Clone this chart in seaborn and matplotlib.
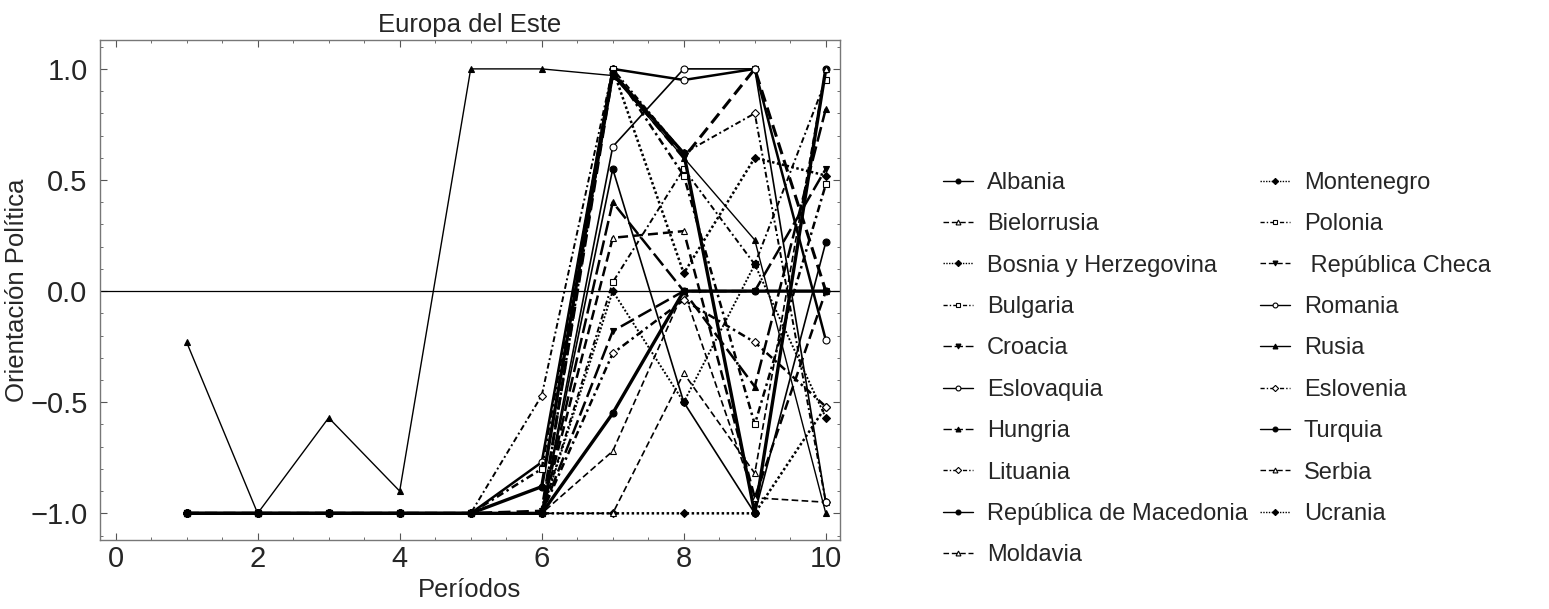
import numpy as np
import pandas as pd
import matplotlib
matplotlib.use("Agg")
import matplotlib.pyplot as plt
import seaborn as sns
from matplotlib.ticker import MultipleLocator

# Datos
periodos = list(range(1, 11))

paises = ["Albania", "Bielorrusia", "Bosnia y Herzegovina", "Bulgaria", "Croacia",
          "Eslovaquia", "Hungria", "Lituania", "República de Macedonia", "Moldavia",
          "Montenegro", "Polonia", " República Checa", "Romania", "Rusia",
          "Eslovenia", "Turquia", "Serbia", "Ucrania"]

albania     = [-1, -1, -1, -1, -1, -1, 0.55, -0.50, -1.00, 0.22]
bielorrusia = [-1, -1, -1, -1, -1, -1, -0.72, 0.00, -0.93, -0.95]
bosnia      = [-1, -1, -1, -1, -1, -1, 1.00, 0.08, 0.60, 0.52]
bulgaria    = [-1, -1, -1, -1, -1, -1, 0.04, 0.55, 0.12, 0.95]
croacia     = [-1, -1, -1, -1, -1, -1, -0.18, 0.00, 0.00, 0.55]
eslovaquia  = [-1, -1, -1, -1, -1, -0.77, 1.00, 0.95, 1.00, -0.22]
hungria     = [-1, -1, -1, -1, -1, -1, 0.40, 0.00, -0.43, 0.82]
lituania    = [-1, -1, -1, -1, -1, -0.47, 1.00, 0.62, 0.80, -0.95]
macedonia   = [-1, -1, -1, -1, -1, -0.88, 0.98, 0.62, -1.00, 1.00]
moldavia    = [-1, -1, -1, -1, -1, -1, 0.24, 0.27, -0.93, 0.00]
montenegro  = [-1, -1, -1, -1, -1, -1, -1.00, -1.00, -1.00, -0.52]
polonia     = [-1, -1, -1, -1, -1, -0.80, 1.00, 0.52, -0.60, 0.48]
checa       = [-1, -1, -1, -1, -1, -0.99, 0.98, 0.60, 1.00, 0.00]
romania     = [-1, -1, -1, -1, -1, -1, 0.65, 1.00, 1.00, -0.95]
rusia       = [-0.23, -1, -0.57, -0.90, 1.00, 1.00, 0.97, 0.60, 0.23, -1.00]
eslovenia   = [-1, -1, -1, -1, -1, -1, -0.28, -0.04, -0.23, -0.52]
turquia     = [-1, -1, -1, -1, -1, -1, -0.55, 0.00, 0.00, 0.00]
serbia      = [-1, -1, -1, -1, -1, -1, -1.00, -0.37, -0.82, 1.00]
ucrania     = [-1, -1, -1, -1, -1, -1, 0.00, -0.50, 0.12, -0.57]

valores = [albania, bielorrusia, bosnia, bulgaria, croacia, eslovaquia, hungria,
           lituania, macedonia, moldavia, montenegro, polonia, checa, romania,
           rusia, eslovenia, turquia, serbia, ucrania]

# estilo de cada serie: (linestyle, marker, relleno, grosor)
solido = "-"
guion = (0, (4, 2))
punteado = (0, (1, 1))
guion_punto = (0, (3, 1.5, 1, 1.5))
guion_largo = (0, (6, 2))
estilos = [
    (solido, "o", "k", 1.2),
    (guion, "^", "w", 1.2),
    (punteado, "D", "k", 1.8),
    (guion_punto, "s", "w", 1.4),
    (guion_largo, "v", "k", 1.8),
    (solido, "o", "w", 1.8),
    (guion_largo, "^", "k", 1.8),
    (guion_punto, "D", "w", 1.4),
    (solido, "o", "k", 2.4),
    (guion, "^", "w", 1.8),
    (punteado, "D", "k", 1.8),
    (guion_punto, "s", "w", 1.8),
    (guion, "v", "k", 2.2),
    (solido, "o", "w", 1.2),
    (solido, "^", "k", 1.0),
    (guion_punto, "D", "w", 1.8),
    (solido, "o", "k", 2.4),
    (guion, "^", "w", 1.2),
    (punteado, "D", "k", 1.4),
]

sns.set_style("ticks")
plt.rcParams["font.family"] = ["Liberation Sans", "DejaVu Sans"]

fig = plt.figure(figsize=(15.49, 6.09), dpi=100)
ax = fig.add_axes([100 / 1549, 1 - 540 / 609, 740 / 1549, 500 / 609])

ax.axhline(0, color="k", lw=0.9, zorder=1)

for pais, vals, (ls, mk, fc, lw) in zip(paises, valores, estilos):
    df = pd.DataFrame({"Periodo": periodos, "Valor": vals})
    ms = 4.5 if mk == "D" else 5
    sns.lineplot(data=df, x="Periodo", y="Valor", ax=ax, color="k", linestyle=ls,
                 linewidth=lw, marker=mk, markersize=ms, markerfacecolor=fc,
                 markeredgecolor="k", markeredgewidth=0.8, label=pais, legend=False)

ax.set_xlim(-0.22, 10.2)
ax.set_ylim(-1.12, 1.13)
ax.xaxis.set_major_locator(MultipleLocator(2))
ax.xaxis.set_minor_locator(MultipleLocator(0.5))
ax.yaxis.set_major_locator(MultipleLocator(0.5))
ax.yaxis.set_minor_locator(MultipleLocator(0.1))
ax.set_yticks([-1.0, -0.5, 0.0, 0.5, 1.0])
ax.set_yticklabels(["\u22121.0", "\u22120.5", "0.0", "0.5", "1.0"])
ax.tick_params(which="both", direction="in", top=True, right=True, labelsize=21,
               color="#555555")
ax.tick_params(axis="y", pad=9)
ax.tick_params(which="major", length=5, width=0.8)
ax.tick_params(which="minor", length=2.5, width=0.6)
for s in ax.spines.values():
    s.set_color("#777777")
    s.set_linewidth(1.0)

ax.set_title("Europa del Este", fontsize=18.5, pad=6)
ax.set_xlabel("Períodos", fontsize=18.5, labelpad=4)
ax.set_ylabel("Orientación Política", fontsize=18.5, labelpad=1)

handles, labels = ax.get_legend_handles_labels()
opciones = dict(loc="upper left", frameon=False, fontsize=17, labelspacing=0.82,
                handlelength=1.25, handletextpad=0.6, borderaxespad=0, borderpad=0,
                markerscale=0.7)
ley1 = fig.legend(handles[:10], labels[:10], bbox_to_anchor=(943 / 1549, 1 - 172 / 609), **opciones)
ley2 = fig.legend(handles[10:], labels[10:], bbox_to_anchor=(1260 / 1549, 1 - 172 / 609), **opciones)
for ley in (ley1, ley2):
    for linea in ley.get_lines():
        linea.set_linewidth(1.0)

fig.savefig("out.png", dpi=100)
